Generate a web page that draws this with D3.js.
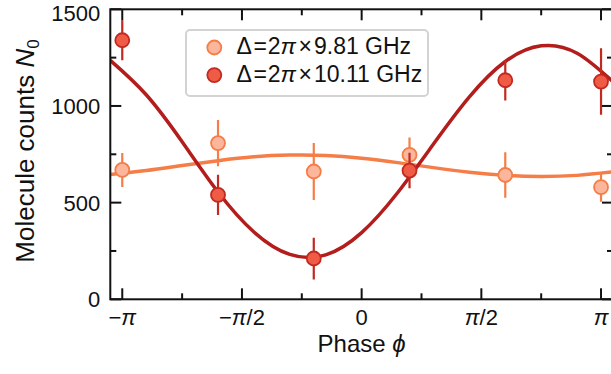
<!DOCTYPE html>
<html>
<head>
<meta charset="utf-8">
<script src="https://cdn.jsdelivr.net/npm/d3@7"></script>
<style>
  html, body { margin: 0; padding: 0; background: #fff; }
  svg { display: block; font-family: "Liberation Sans", Arial, Helvetica, sans-serif; }
</style>
</head>
<body>
<svg id="chart" width="611" height="374"></svg>
<script>
// ---- data (phase in units of π) ----
const phase = [-1, -0.6, -0.2, 0.2, 0.6, 1];
const countsLow = [669, 808, 661, 747, 643, 580];     // Δ = 2π × 9.81 GHz
const errLow    = [88, 120, 147, 90, 118, 75];
const countsHigh = [1340, 540, 211, 666, 1133, 1126]; // Δ = 2π × 10.11 GHz
const errHigh    = [104, 104, 108, 92, 105, 172];

// fitted curves
const fitPhase = [-1.05, -0.9, -0.75, -0.6, -0.45, -0.3, -0.15, 0, 0.15, 0.3, 0.45, 0.6, 0.75, 0.9, 1.05];
const fitLow   = [646, 666, 692, 717, 737, 746, 744, 730, 707, 681, 657, 641, 635, 641, 659];
const fitHigh  = [1236, 1058, 815, 555, 348, 232, 230, 345, 551, 803, 1047, 1230, 1311, 1273, 1125];

const xTicks = [-1, -0.5, 0, 0.5, 1];
const xTickLabels = ["−π", "−π/2", "0", "π/2", "π"];
const xMinor = [-0.75, -0.25, 0.25, 0.75];
const yTicks = [0, 500, 1000, 1500];
const yMinor = [250, 750, 1250];
const legendLabels = ["9.81 GHz", "10.11 GHz"];

// ---- styles ----
const colLowLine = "#f57d47", colLowFill = "#fcb69b";
const colHighLine = "#b31d1c", colHighFill = "#f05b45", colHighEdge = "#c02a20";

const svg = d3.select("#chart");
const L = 110.3, R = 613, T = 9.3, B = 299.3;
const x = d3.scaleLinear().domain([-1.05, 1.05]).range([L, R]);
const y = d3.scaleLinear().domain([0, 1500]).range([B, T]);

svg.append("defs").append("clipPath").attr("id", "clip")
  .append("rect").attr("x", L).attr("y", T).attr("width", R - L).attr("height", B - T);

const plot = svg.append("g").attr("clip-path", "url(#clip)");

const line = d3.line().x((d, i) => x(fitPhase[i])).y(d => y(d)).curve(d3.curveNatural);

plot.append("path").attr("d", line(fitLow)).attr("fill", "none")
  .attr("stroke", colLowLine).attr("stroke-width", 3.5);
plot.append("path").attr("d", line(fitHigh)).attr("fill", "none")
  .attr("stroke", colHighLine).attr("stroke-width", 3.5);

function drawSeries(vals, errs, fill, edge) {
  const g = plot.append("g");
  g.selectAll("line.err").data(vals).join("line")
    .attr("x1", (d, i) => x(phase[i])).attr("x2", (d, i) => x(phase[i]))
    .attr("y1", (d, i) => y(d - errs[i])).attr("y2", (d, i) => y(d + errs[i]))
    .attr("stroke", edge).attr("stroke-width", 2.2);
  g.selectAll("circle").data(vals).join("circle")
    .attr("cx", (d, i) => x(phase[i])).attr("cy", d => y(d)).attr("r", 7)
    .attr("fill", fill).attr("stroke", edge).attr("stroke-width", 1.8);
}
drawSeries(countsLow, errLow, colLowFill, colLowLine);
drawSeries(countsHigh, errHigh, colHighFill, colHighEdge);

// ---- frame and ticks ----
const axes = svg.append("g").attr("stroke", "#111").attr("stroke-width", 2);
axes.append("rect").attr("x", L).attr("y", T).attr("width", R - L).attr("height", B - T)
  .attr("fill", "none");
const tickG = axes.append("g").attr("stroke-width", 2);
function xt(vals, len) {
  vals.forEach(v => {
    tickG.append("line").attr("x1", x(v)).attr("x2", x(v)).attr("y1", B).attr("y2", B - len);
    tickG.append("line").attr("x1", x(v)).attr("x2", x(v)).attr("y1", T).attr("y2", T + len);
  });
}
function yt(vals, len) {
  vals.forEach(v => {
    tickG.append("line").attr("y1", y(v)).attr("y2", y(v)).attr("x1", L).attr("x2", L + len);
    tickG.append("line").attr("y1", y(v)).attr("y2", y(v)).attr("x1", R).attr("x2", R - len);
  });
}
xt(xTicks, 11); xt(xMinor, 6); yt(yTicks, 11); yt(yMinor, 6);

// tick labels
const fs = 22;
yTicks.forEach(v => {
  svg.append("text").attr("x", L - 10).attr("y", Math.max(y(v) + 0.36 * fs, 20.5))
    .attr("text-anchor", "end").attr("font-size", fs).attr("fill", "#111").text(v);
});
xTicks.forEach((v, i) => {
  const t = svg.append("text").attr("x", x(v)).attr("y", 324.5)
    .attr("text-anchor", "middle").attr("font-size", fs).attr("fill", "#111");
  const parts = xTickLabels[i].split("π");
  parts.forEach((p, j) => {
    if (p) t.append("tspan").text(p);
    if (j < parts.length - 1) t.append("tspan").attr("font-style", "italic").text("π");
  });
});

// axis titles
const xt2 = svg.append("text").attr("x", (L + R) / 2).attr("y", 352)
  .attr("text-anchor", "middle").attr("font-size", 24).attr("fill", "#111");
xt2.append("tspan").text("Phase ");
xt2.append("tspan").attr("font-style", "italic").text("ϕ");

const yt2 = svg.append("text").attr("transform", "translate(34,151) rotate(-90)")
  .attr("text-anchor", "middle").attr("font-size", 26).attr("fill", "#111");
yt2.append("tspan").text("Molecule counts ");
yt2.append("tspan").attr("font-style", "italic").text("N");
yt2.append("tspan").attr("font-size", 17).attr("dy", 5).text("0");

// ---- legend ----
const lg = svg.append("g");
lg.append("rect").attr("x", 186).attr("y", 30).attr("width", 242).attr("height", 66).attr("rx", 4)
  .attr("fill", "#fff").attr("stroke", "#d3d3d3").attr("stroke-width", 2);
const legendStyles = [[colLowFill, colLowLine], [colHighFill, colHighEdge]];
legendLabels.forEach((lab, i) => {
  const cy = 47.5 + i * 27.6;
  lg.append("circle").attr("cx", 214.3).attr("cy", cy).attr("r", 7)
    .attr("fill", legendStyles[i][0]).attr("stroke", legendStyles[i][1]).attr("stroke-width", 1.8);
  const t = lg.append("text").attr("x", 236.5).attr("y", cy + 6.5).attr("font-size", 23).attr("fill", "#111");
  t.append("tspan").text("Δ");
  t.append("tspan").attr("dx", 1.5).text("=");
  t.append("tspan").attr("dx", 1).text("2");
  t.append("tspan").attr("font-style", "italic").text("π");
  t.append("tspan").attr("dx", 2.5).text("×");
  t.append("tspan").attr("dx", 2).text(lab);
});
</script>
</body>
</html>
